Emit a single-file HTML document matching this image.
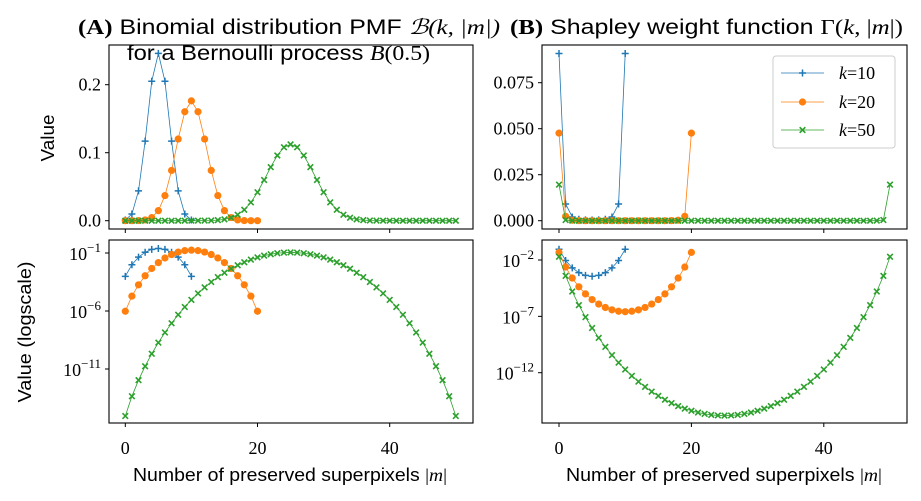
<!DOCTYPE html>
<html><head><meta charset="utf-8"><style>
html,body{margin:0;padding:0;background:#fff;}
svg{display:block;}
.t{font-family:"Liberation Sans",sans-serif;fill:#000;}
.s{font-family:"Liberation Serif",serif;fill:#000;}
</style></head><body>
<svg id="c" width="921" height="501" viewBox="0 0 921 501" xmlns="http://www.w3.org/2000/svg"></svg>
<script>
const ks = [10, 20, 50];
const colors = ['#1f77b4', '#ff7f0e', '#2ca02c'];
const binom10 = [0.000977,0.00977,0.0439,0.117,0.205,0.246,0.205,0.117,0.0439,0.00977,0.000977];
const binom20 = [9.54e-7,1.91e-5,1.81e-4,1.087e-3,4.62e-3,0.01479,0.03696,0.07393,0.1201,0.1602,0.1762,0.1602,0.1201,0.07393,0.03696,0.01479,4.62e-3,1.087e-3,1.81e-4,1.91e-5,9.54e-7];
const binom50 = [8.88e-16,4.44e-14,1.088e-12,1.741e-11,2.045e-10,1.882e-9,1.411e-8,8.87e-8,4.77e-7,2.225e-6,9.12e-6,3.318e-5,1.078e-4,3.152e-4,8.33e-4,1.999e-3,4.373e-3,8.746e-3,0.01603,0.02701,0.04186,0.0598,0.07883,0.09596,0.1080,0.1123,0.1080,0.09596,0.07883,0.0598,0.04186,0.02701,0.01603,8.746e-3,4.373e-3,1.999e-3,8.33e-4,3.152e-4,1.078e-4,3.318e-5,9.12e-6,2.225e-6,4.77e-7,8.87e-8,1.411e-8,1.882e-9,2.045e-10,1.741e-11,1.088e-12,4.44e-14,8.88e-16];
const shap10 = [0.0909,0.00909,0.00202,7.58e-4,4.33e-4,3.61e-4,4.33e-4,7.58e-4,0.00202,0.00909,0.0909];
const shap20 = [0.0476,0.00238,2.51e-4,4.18e-5,9.83e-6,3.07e-6,1.229e-6,6.14e-7,3.78e-7,2.835e-7,2.577e-7,2.835e-7,3.78e-7,6.14e-7,1.229e-6,3.07e-6,9.83e-6,4.18e-5,2.51e-4,0.00238,0.0476];
const shap50 = [0.0196,3.92e-4,1.6e-5,1.0e-6,8.51e-8,9.25e-9,1.234e-9,1.963e-10,3.652e-11,7.83e-12,1.909e-12,5.25e-13,1.615e-13,5.53e-14,2.091e-14,8.71e-15,3.98e-15,1.991e-15,1.086e-15,6.45e-16,4.16e-16,2.91e-16,2.21e-16,1.815e-16,1.613e-16,1.551e-16,1.613e-16,1.815e-16,2.21e-16,2.91e-16,4.16e-16,6.45e-16,1.086e-15,1.991e-15,3.98e-15,8.71e-15,2.091e-14,5.53e-14,1.615e-13,5.25e-13,1.909e-12,7.83e-12,3.652e-11,1.963e-10,1.234e-9,9.25e-9,8.51e-8,1.0e-6,1.6e-5,3.92e-4,0.0196];
const xTicks = [0, 20, 40];
const yTicksA = [0.0, 0.1, 0.2];
const yTicksALabels = ['0.0','0.1','0.2'];
const yTicksB = [0, 0.025, 0.05, 0.075];
const yTicksBLabels = ['0.000','0.025','0.050','0.075'];
const logTicksA = [-1, -6, -11];
const logTicksB = [-2, -7, -12];

const NS = 'http://www.w3.org/2000/svg';
const svg = document.getElementById('c');
function el(tag, attrs, parent, text) {
  const e = document.createElementNS(NS, tag);
  for (const k in attrs) e.setAttribute(k, attrs[k]);
  if (text !== undefined) e.textContent = text;
  (parent || svg).appendChild(e);
  return e;
}
const panels = [
  {name:'binomial-linear', x0:109, x1:473, y0:45, y1:229, xs:(v)=>125.3+v*6.61, ys:(v)=>220.7-v*680, data:[binom10,binom20,binom50], log:false},
  {name:'binomial-log', x0:109, x1:473, y0:240, y1:423, xs:(v)=>125.3+v*6.61, ys:(v)=>253-(Math.log10(v)+1)*11.6, data:[binom10,binom20,binom50], log:true},
  {name:'shapley-linear', x0:542, x1:907, y0:45, y1:229, xs:(v)=>559+v*6.62, ys:(v)=>220.7-v*1840, data:[shap10,shap20,shap50], log:false},
  {name:'shapley-log', x0:542, x1:907, y0:240, y1:423, xs:(v)=>559+v*6.62, ys:(v)=>260-(Math.log10(v)+2)*11.27, data:[shap10,shap20,shap50], log:true}
];
function marker(g, i, x, y) {
  const c = colors[i];
  let m;
  if (i === 0) {
    m = el('path', {d:`M${x-3.5},${y}H${x+3.5}M${x},${y-3.5}V${y+3.5}`, stroke:c, 'stroke-width':1.5, fill:'none'}, g);
  } else if (i === 1) {
    m = el('circle', {cx:x, cy:y, r:3.6, fill:c}, g);
  } else {
    m = el('path', {d:`M${x-2.8},${y-2.8}L${x+2.8},${y+2.8}M${x-2.8},${y+2.8}L${x+2.8},${y-2.8}`, stroke:c, 'stroke-width':1.6, fill:'none'}, g);
  }
  
  
}
panels.forEach((p, pi) => {
  const g = el('g', {});
  
  
  const clipId = 'clip' + pi;
  const cp = el('clipPath', {id: clipId}, g);
  el('rect', {x:p.x0, y:p.y0, width:p.x1-p.x0, height:p.y1-p.y0}, cp);
  const sg = el('g', {'clip-path':'url(#' + clipId + ')'}, g);
  p.data.forEach((arr, i) => {
    const sgi = el('g', {}, sg);
    
    
    const pts = arr.map((v, m) => p.xs(m).toFixed(2) + ',' + p.ys(v).toFixed(2)).join(' ');
    el('polyline', {points:pts, fill:'none', stroke:colors[i], 'stroke-width':0.8}, sgi);
    arr.forEach((v, m) => marker(sgi, i, p.xs(m), p.ys(v)));
  });
  const fr = el('rect', {x:p.x0, y:p.y0, width:p.x1-p.x0, height:p.y1-p.y0, fill:'none', stroke:'#000', 'stroke-width':1.1}, g);
  
  
  xTicks.forEach(t => {
    const x = p.xs(t);
    el('line', {x1:x, x2:x, y1:p.y1, y2:p.y1+4, stroke:'#000', 'stroke-width':1}, g);
    if (p.log) {
      const lb = el('text', {x:x, y:p.y1+31, 'text-anchor':'middle', 'font-size':18, class:'s'}, g, String(t));
      
      
    }
  });
  if (!p.log) {
    const tv = pi === 0 ? yTicksA : yTicksB;
    const tl = pi === 0 ? yTicksALabels : yTicksBLabels;
    tv.forEach((t, j) => {
      const y = p.ys(t);
      el('line', {x1:p.x0-4, x2:p.x0, y1:y, y2:y, stroke:'#000', 'stroke-width':1}, g);
      const lb = el('text', {x:p.x0-8, y:y+6, 'text-anchor':'end', 'font-size':18, class:'s'}, g, tl[j]);
      
      
    });
  } else {
    const tv = pi === 1 ? logTicksA : logTicksB;
    tv.forEach(e => {
      const y = p.ys(Math.pow(10, e));
      el('line', {x1:p.x0-4, x2:p.x0, y1:y, y2:y, stroke:'#000', 'stroke-width':1}, g);
      const lb = el('text', {x:p.x0-8, y:y+7, 'text-anchor':'end', 'font-size':18, class:'s'}, g);
      
      
      el('tspan', {}, lb, '10');
      el('tspan', {dy:-8, 'font-size':13}, lb, '\u2212' + Math.abs(e));
    });
  }
});
</script>
<div style="position:absolute;left:0;top:0;width:921px;height:501px;pointer-events:none">
<svg width="921" height="501" xmlns="http://www.w3.org/2000/svg">
  <text class="t" x="78" y="34" font-size="21" textLength="422" lengthAdjust="spacingAndGlyphs"><tspan class="s" font-weight="bold">(A)</tspan> Binomial distribution PMF <tspan class="s" font-style="italic">ℬ(k, |m|)</tspan></text>
  <text class="t" x="127" y="60" font-size="21" textLength="303" lengthAdjust="spacingAndGlyphs">for a Bernoulli process <tspan class="s" font-style="italic">B</tspan><tspan class="s">(0.5)</tspan></text>
  <text class="t" x="510" y="34" font-size="21" textLength="393" lengthAdjust="spacingAndGlyphs"><tspan class="s" font-weight="bold">(B)</tspan> Shapley weight function <tspan class="s">Γ(<tspan font-style="italic">k</tspan>, |<tspan font-style="italic">m</tspan>|)</tspan></text>
  <text class="t" x="54" y="138" font-size="18" textLength="47" lengthAdjust="spacingAndGlyphs" text-anchor="middle" transform="rotate(-90 54 138)">Value</text>
  <text class="t" x="31" y="332" font-size="18" textLength="141" lengthAdjust="spacingAndGlyphs" text-anchor="middle" transform="rotate(-90 31 332)">Value (logscale)</text>
  <text class="t" x="290" y="481" font-size="18" textLength="314" lengthAdjust="spacingAndGlyphs" text-anchor="middle">Number of preserved superpixels <tspan class="s">|<tspan font-style="italic">m</tspan>|</tspan></text>
  <text class="t" x="724" y="481" font-size="18" textLength="316" lengthAdjust="spacingAndGlyphs" text-anchor="middle">Number of preserved superpixels <tspan class="s">|<tspan font-style="italic">m</tspan>|</tspan></text>
  <g>
    <rect x="773" y="56" width="122" height="92" rx="3" fill="#fff" fill-opacity="0.8" stroke="#ccc" stroke-width="1"/>
    <g>
      <line x1="781" x2="824" y1="73" y2="73" stroke="#1f77b4" stroke-width="0.8"/>
      <path d="M799,73H806M802.5,69.5V76.5" stroke="#1f77b4" stroke-width="1.5"/>
      <text class="s" x="839" y="79" font-size="18"><tspan font-style="italic">k</tspan>=10</text>
    </g>
    <g>
      <line x1="781" x2="824" y1="102" y2="102" stroke="#ff7f0e" stroke-width="0.8"/>
      <circle cx="802.5" cy="102" r="3.6" fill="#ff7f0e"/>
      <text class="s" x="839" y="108" font-size="18"><tspan font-style="italic">k</tspan>=20</text>
    </g>
    <g>
      <line x1="781" x2="824" y1="130" y2="130" stroke="#2ca02c" stroke-width="0.8"/>
      <path d="M799.7,127.2L805.3,132.8M799.7,132.8L805.3,127.2" stroke="#2ca02c" stroke-width="1.6"/>
      <text class="s" x="839" y="136" font-size="18"><tspan font-style="italic">k</tspan>=50</text>
    </g>
  </g>
</svg>
</div>
</body></html>
